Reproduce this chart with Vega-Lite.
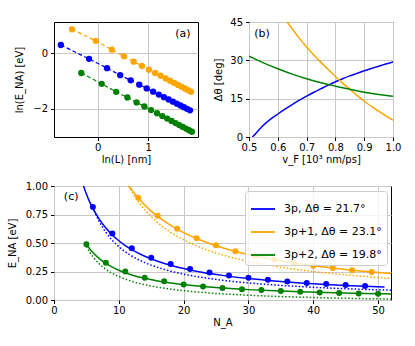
{
"$schema": "https://vega.github.io/schema/vega-lite/v6.json",
"background": "white",
"padding": {"left": 6, "top": 16, "right": 5, "bottom": 5},
"config": {
  "font": "DejaVu Sans",
  "view": {"stroke": "black", "strokeWidth": 1},
  "axis": {"grid": true, "gridColor": "#c8c8c8", "gridWidth": 1, "domain": false, "tickColor": "black", "tickSize": 3.5, "tickWidth": 1, "labelFontSize": 10, "labelColor": "black", "labelPadding": 3, "labelOverlap": false, "labelFlush": false, "labelBound": false, "titleFontSize": 10, "titleFontWeight": "normal", "titleColor": "black", "titlePadding": 2, "labelFont": "DejaVu Sans", "titleFont": "DejaVu Sans"},
  "text": {"font": "DejaVu Sans"},
  "legend": {"labelFont": "DejaVu Sans"}
},
"datasets": {
  "a": [
    {"s": "3p", "x": -0.734, "y": 0.30}, {"s": "3p", "x": -0.174, "y": -0.20}, {"s": "3p", "x": 0.183, "y": -0.535}, {"s": "3p", "x": 0.445, "y": -0.79}, {"s": "3p", "x": 0.653, "y": -0.975}, {"s": "3p", "x": 0.824, "y": -1.132}, {"s": "3p", "x": 0.971, "y": -1.267}, {"s": "3p", "x": 1.099, "y": -1.385}, {"s": "3p", "x": 1.212, "y": -1.489}, {"s": "3p", "x": 1.314, "y": -1.583}, {"s": "3p", "x": 1.406, "y": -1.667}, {"s": "3p", "x": 1.491, "y": -1.745}, {"s": "3p", "x": 1.569, "y": -1.817}, {"s": "3p", "x": 1.641, "y": -1.883}, {"s": "3p", "x": 1.709, "y": -1.946}, {"s": "3p", "x": 1.772, "y": -2.004}, {"s": "3p", "x": 1.831, "y": -2.059},
    {"s": "3p+1", "x": -0.511, "y": 0.867}, {"s": "3p+1", "x": -0.041, "y": 0.45}, {"s": "3p+1", "x": 0.278, "y": 0.13}, {"s": "3p+1", "x": 0.519, "y": -0.108}, {"s": "3p+1", "x": 0.713, "y": -0.301}, {"s": "3p+1", "x": 0.876, "y": -0.456}, {"s": "3p+1", "x": 1.015, "y": -0.589}, {"s": "3p+1", "x": 1.138, "y": -0.706}, {"s": "3p+1", "x": 1.247, "y": -0.81}, {"s": "3p+1", "x": 1.346, "y": -0.905}, {"s": "3p+1", "x": 1.435, "y": -0.99}, {"s": "3p+1", "x": 1.518, "y": -1.069}, {"s": "3p+1", "x": 1.594, "y": -1.141}, {"s": "3p+1", "x": 1.664, "y": -1.208}, {"s": "3p+1", "x": 1.73, "y": -1.271}, {"s": "3p+1", "x": 1.792, "y": -1.33}, {"s": "3p+1", "x": 1.85, "y": -1.386},
    {"s": "3p+2", "x": -0.328, "y": -0.711}, {"s": "3p+2", "x": 0.077, "y": -1.10}, {"s": "3p+2", "x": 0.365, "y": -1.39}, {"s": "3p+2", "x": 0.588, "y": -1.595}, {"s": "3p+2", "x": 0.77, "y": -1.771}, {"s": "3p+2", "x": 0.925, "y": -1.92}, {"s": "3p+2", "x": 1.058, "y": -2.048}, {"s": "3p+2", "x": 1.176, "y": -2.162}, {"s": "3p+2", "x": 1.281, "y": -2.264}, {"s": "3p+2", "x": 1.377, "y": -2.356}, {"s": "3p+2", "x": 1.464, "y": -2.44}, {"s": "3p+2", "x": 1.544, "y": -2.517}, {"s": "3p+2", "x": 1.618, "y": -2.589}, {"s": "3p+2", "x": 1.687, "y": -2.655}, {"s": "3p+2", "x": 1.751, "y": -2.717}, {"s": "3p+2", "x": 1.812, "y": -2.776}, {"s": "3p+2", "x": 1.869, "y": -2.831}
  ],
  "labA": [{"x": 1.69, "y": 0.686, "t": "(a)"}],
  "b": [
    {"s": "3p", "v": 0.512, "d": 0}, {"s": "3p", "v": 0.525, "d": 1.6}, {"s": "3p", "v": 0.55, "d": 4.6}, {"s": "3p", "v": 0.575, "d": 7.0}, {"s": "3p", "v": 0.6, "d": 9.0}, {"s": "3p", "v": 0.625, "d": 10.9}, {"s": "3p", "v": 0.65, "d": 12.7}, {"s": "3p", "v": 0.675, "d": 14.4}, {"s": "3p", "v": 0.7, "d": 16.0}, {"s": "3p", "v": 0.725, "d": 17.5}, {"s": "3p", "v": 0.75, "d": 18.9}, {"s": "3p", "v": 0.775, "d": 20.3}, {"s": "3p", "v": 0.8, "d": 21.6}, {"s": "3p", "v": 0.825, "d": 22.8}, {"s": "3p", "v": 0.85, "d": 23.9}, {"s": "3p", "v": 0.875, "d": 24.9}, {"s": "3p", "v": 0.9, "d": 25.9}, {"s": "3p", "v": 0.925, "d": 26.8}, {"s": "3p", "v": 0.95, "d": 27.7}, {"s": "3p", "v": 0.975, "d": 28.6}, {"s": "3p", "v": 1.0, "d": 29.4},
    {"s": "3p+1", "v": 0.633, "d": 45}, {"s": "3p+1", "v": 0.65, "d": 42.3}, {"s": "3p+1", "v": 0.675, "d": 38.6}, {"s": "3p+1", "v": 0.7, "d": 35.2}, {"s": "3p+1", "v": 0.725, "d": 32.1}, {"s": "3p+1", "v": 0.75, "d": 29.2}, {"s": "3p+1", "v": 0.775, "d": 26.4}, {"s": "3p+1", "v": 0.8, "d": 23.7}, {"s": "3p+1", "v": 0.825, "d": 21.1}, {"s": "3p+1", "v": 0.85, "d": 18.7}, {"s": "3p+1", "v": 0.875, "d": 16.3}, {"s": "3p+1", "v": 0.9, "d": 14.0}, {"s": "3p+1", "v": 0.925, "d": 12.0}, {"s": "3p+1", "v": 0.95, "d": 10.1}, {"s": "3p+1", "v": 0.975, "d": 8.3}, {"s": "3p+1", "v": 1.0, "d": 6.6},
    {"s": "3p+2", "v": 0.5, "d": 31.6}, {"s": "3p+2", "v": 0.55, "d": 29.0}, {"s": "3p+2", "v": 0.6, "d": 26.7}, {"s": "3p+2", "v": 0.65, "d": 24.6}, {"s": "3p+2", "v": 0.7, "d": 22.8}, {"s": "3p+2", "v": 0.75, "d": 21.2}, {"s": "3p+2", "v": 0.8, "d": 19.9}, {"s": "3p+2", "v": 0.85, "d": 18.7}, {"s": "3p+2", "v": 0.9, "d": 17.5}, {"s": "3p+2", "v": 0.95, "d": 16.6}, {"s": "3p+2", "v": 1.0, "d": 15.9}
  ],
  "labB": [{"v": 0.545, "d": 40.5, "t": "(b)"}],
  "cp": [
    {"s": "3p, Δθ = 21.7°", "n": 6, "e": 0.816}, {"s": "3p, Δθ = 21.7°", "n": 9, "e": 0.583}, {"s": "3p, Δθ = 21.7°", "n": 12, "e": 0.454}, {"s": "3p, Δθ = 21.7°", "n": 15, "e": 0.371}, {"s": "3p, Δθ = 21.7°", "n": 18, "e": 0.315}, {"s": "3p, Δθ = 21.7°", "n": 21, "e": 0.272}, {"s": "3p, Δθ = 21.7°", "n": 24, "e": 0.242}, {"s": "3p, Δθ = 21.7°", "n": 27, "e": 0.215}, {"s": "3p, Δθ = 21.7°", "n": 30, "e": 0.195}, {"s": "3p, Δθ = 21.7°", "n": 33, "e": 0.177}, {"s": "3p, Δθ = 21.7°", "n": 36, "e": 0.163}, {"s": "3p, Δθ = 21.7°", "n": 39, "e": 0.150}, {"s": "3p, Δθ = 21.7°", "n": 42, "e": 0.140}, {"s": "3p, Δθ = 21.7°", "n": 45, "e": 0.132}, {"s": "3p, Δθ = 21.7°", "n": 48, "e": 0.123},
    {"s": "3p+1, Δθ = 23.1°", "n": 13, "e": 0.898}, {"s": "3p+1, Δθ = 23.1°", "n": 16, "e": 0.740}, {"s": "3p+1, Δθ = 23.1°", "n": 19, "e": 0.626}, {"s": "3p+1, Δθ = 23.1°", "n": 22, "e": 0.541}, {"s": "3p+1, Δθ = 23.1°", "n": 25, "e": 0.480}, {"s": "3p+1, Δθ = 23.1°", "n": 28, "e": 0.427}, {"s": "3p+1, Δθ = 23.1°", "n": 31, "e": 0.388}, {"s": "3p+1, Δθ = 23.1°", "n": 34, "e": 0.356}, {"s": "3p+1, Δθ = 23.1°", "n": 37, "e": 0.325}, {"s": "3p+1, Δθ = 23.1°", "n": 40, "e": 0.300}, {"s": "3p+1, Δθ = 23.1°", "n": 43, "e": 0.280}, {"s": "3p+1, Δθ = 23.1°", "n": 46, "e": 0.262}, {"s": "3p+1, Δθ = 23.1°", "n": 49, "e": 0.246},
    {"s": "3p+2, Δθ = 19.8°", "n": 5, "e": 0.490}, {"s": "3p+2, Δθ = 19.8°", "n": 8, "e": 0.327}, {"s": "3p+2, Δθ = 19.8°", "n": 11, "e": 0.251}, {"s": "3p+2, Δθ = 19.8°", "n": 14, "e": 0.196}, {"s": "3p+2, Δθ = 19.8°", "n": 17, "e": 0.164}, {"s": "3p+2, Δθ = 19.8°", "n": 20, "e": 0.136}, {"s": "3p+2, Δθ = 19.8°", "n": 23, "e": 0.119}, {"s": "3p+2, Δθ = 19.8°", "n": 26, "e": 0.105}, {"s": "3p+2, Δθ = 19.8°", "n": 29, "e": 0.095}, {"s": "3p+2, Δθ = 19.8°", "n": 32, "e": 0.087}, {"s": "3p+2, Δθ = 19.8°", "n": 35, "e": 0.079}, {"s": "3p+2, Δθ = 19.8°", "n": 38, "e": 0.072}, {"s": "3p+2, Δθ = 19.8°", "n": 41, "e": 0.066}, {"s": "3p+2, Δθ = 19.8°", "n": 44, "e": 0.062}, {"s": "3p+2, Δθ = 19.8°", "n": 47, "e": 0.058}, {"s": "3p+2, Δθ = 19.8°", "n": 50, "e": 0.055}
  ],
  "cs": [
    {"s": "3p, Δθ = 21.7°", "n": 4.55, "e": 1.0}, {"s": "3p, Δθ = 21.7°", "n": 5, "e": 0.929}, {"s": "3p, Δθ = 21.7°", "n": 5.5, "e": 0.861}, {"s": "3p, Δθ = 21.7°", "n": 6, "e": 0.803}, {"s": "3p, Δθ = 21.7°", "n": 7, "e": 0.707}, {"s": "3p, Δθ = 21.7°", "n": 8, "e": 0.631}, {"s": "3p, Δθ = 21.7°", "n": 9, "e": 0.570}, {"s": "3p, Δθ = 21.7°", "n": 10, "e": 0.520}, {"s": "3p, Δθ = 21.7°", "n": 11, "e": 0.478}, {"s": "3p, Δθ = 21.7°", "n": 12, "e": 0.442}, {"s": "3p, Δθ = 21.7°", "n": 14, "e": 0.384}, {"s": "3p, Δθ = 21.7°", "n": 16, "e": 0.340}, {"s": "3p, Δθ = 21.7°", "n": 18, "e": 0.305}, {"s": "3p, Δθ = 21.7°", "n": 20, "e": 0.276}, {"s": "3p, Δθ = 21.7°", "n": 23, "e": 0.242}, {"s": "3p, Δθ = 21.7°", "n": 26, "e": 0.216}, {"s": "3p, Δθ = 21.7°", "n": 30, "e": 0.188}, {"s": "3p, Δθ = 21.7°", "n": 34, "e": 0.167}, {"s": "3p, Δθ = 21.7°", "n": 38, "e": 0.150}, {"s": "3p, Δθ = 21.7°", "n": 42, "e": 0.136}, {"s": "3p, Δθ = 21.7°", "n": 46, "e": 0.125}, {"s": "3p, Δθ = 21.7°", "n": 51, "e": 0.113},
    {"s": "3p+1, Δθ = 23.1°", "n": 11.56, "e": 1.0}, {"s": "3p+1, Δθ = 23.1°", "n": 12, "e": 0.966}, {"s": "3p+1, Δθ = 23.1°", "n": 13, "e": 0.895}, {"s": "3p+1, Δθ = 23.1°", "n": 14, "e": 0.834}, {"s": "3p+1, Δθ = 23.1°", "n": 15, "e": 0.780}, {"s": "3p+1, Δθ = 23.1°", "n": 16, "e": 0.734}, {"s": "3p+1, Δθ = 23.1°", "n": 18, "e": 0.655}, {"s": "3p+1, Δθ = 23.1°", "n": 20, "e": 0.591}, {"s": "3p+1, Δθ = 23.1°", "n": 22, "e": 0.539}, {"s": "3p+1, Δθ = 23.1°", "n": 25, "e": 0.476}, {"s": "3p+1, Δθ = 23.1°", "n": 28, "e": 0.426}, {"s": "3p+1, Δθ = 23.1°", "n": 31, "e": 0.386}, {"s": "3p+1, Δθ = 23.1°", "n": 34, "e": 0.354}, {"s": "3p+1, Δθ = 23.1°", "n": 37, "e": 0.324}, {"s": "3p+1, Δθ = 23.1°", "n": 40, "e": 0.300}, {"s": "3p+1, Δθ = 23.1°", "n": 43, "e": 0.280}, {"s": "3p+1, Δθ = 23.1°", "n": 46, "e": 0.262}, {"s": "3p+1, Δθ = 23.1°", "n": 49, "e": 0.246}, {"s": "3p+1, Δθ = 23.1°", "n": 52, "e": 0.232},
    {"s": "3p+2, Δθ = 19.8°", "n": 5, "e": 0.490}, {"s": "3p+2, Δθ = 19.8°", "n": 5.5, "e": 0.450}, {"s": "3p+2, Δθ = 19.8°", "n": 6, "e": 0.417}, {"s": "3p+2, Δθ = 19.8°", "n": 7, "e": 0.363}, {"s": "3p+2, Δθ = 19.8°", "n": 8, "e": 0.321}, {"s": "3p+2, Δθ = 19.8°", "n": 9, "e": 0.288}, {"s": "3p+2, Δθ = 19.8°", "n": 10, "e": 0.261}, {"s": "3p+2, Δθ = 19.8°", "n": 12, "e": 0.220}, {"s": "3p+2, Δθ = 19.8°", "n": 14, "e": 0.190}, {"s": "3p+2, Δθ = 19.8°", "n": 16, "e": 0.167}, {"s": "3p+2, Δθ = 19.8°", "n": 18, "e": 0.149}, {"s": "3p+2, Δθ = 19.8°", "n": 20, "e": 0.135}, {"s": "3p+2, Δθ = 19.8°", "n": 23, "e": 0.118}, {"s": "3p+2, Δθ = 19.8°", "n": 26, "e": 0.1045}, {"s": "3p+2, Δθ = 19.8°", "n": 30, "e": 0.091}, {"s": "3p+2, Δθ = 19.8°", "n": 34, "e": 0.0804}, {"s": "3p+2, Δθ = 19.8°", "n": 38, "e": 0.0721}, {"s": "3p+2, Δθ = 19.8°", "n": 42, "e": 0.0653}, {"s": "3p+2, Δθ = 19.8°", "n": 46, "e": 0.0597}, {"s": "3p+2, Δθ = 19.8°", "n": 50, "e": 0.055}, {"s": "3p+2, Δθ = 19.8°", "n": 52, "e": 0.0529}
  ],
  "cd": [
    {"s": "3p, Δθ = 21.7°", "n": 6, "e": 0.812}, {"s": "3p, Δθ = 21.7°", "n": 6.5, "e": 0.744}, {"s": "3p, Δθ = 21.7°", "n": 7, "e": 0.686}, {"s": "3p, Δθ = 21.7°", "n": 8, "e": 0.594}, {"s": "3p, Δθ = 21.7°", "n": 9, "e": 0.523}, {"s": "3p, Δθ = 21.7°", "n": 10, "e": 0.468}, {"s": "3p, Δθ = 21.7°", "n": 12, "e": 0.386}, {"s": "3p, Δθ = 21.7°", "n": 14, "e": 0.328}, {"s": "3p, Δθ = 21.7°", "n": 16, "e": 0.286}, {"s": "3p, Δθ = 21.7°", "n": 18, "e": 0.253}, {"s": "3p, Δθ = 21.7°", "n": 20, "e": 0.227}, {"s": "3p, Δθ = 21.7°", "n": 23, "e": 0.197}, {"s": "3p, Δθ = 21.7°", "n": 26, "e": 0.173}, {"s": "3p, Δθ = 21.7°", "n": 30, "e": 0.150}, {"s": "3p, Δθ = 21.7°", "n": 34, "e": 0.132}, {"s": "3p, Δθ = 21.7°", "n": 38, "e": 0.118}, {"s": "3p, Δθ = 21.7°", "n": 42, "e": 0.106}, {"s": "3p, Δθ = 21.7°", "n": 46, "e": 0.097}, {"s": "3p, Δθ = 21.7°", "n": 52, "e": 0.086},
    {"s": "3p+1, Δθ = 23.1°", "n": 11.5, "e": 1.0}, {"s": "3p+1, Δθ = 23.1°", "n": 12, "e": 0.95}, {"s": "3p+1, Δθ = 23.1°", "n": 13, "e": 0.864}, {"s": "3p+1, Δθ = 23.1°", "n": 14, "e": 0.792}, {"s": "3p+1, Δθ = 23.1°", "n": 15, "e": 0.731}, {"s": "3p+1, Δθ = 23.1°", "n": 16, "e": 0.679}, {"s": "3p+1, Δθ = 23.1°", "n": 18, "e": 0.594}, {"s": "3p+1, Δθ = 23.1°", "n": 20, "e": 0.528}, {"s": "3p+1, Δθ = 23.1°", "n": 22, "e": 0.475}, {"s": "3p+1, Δθ = 23.1°", "n": 25, "e": 0.413}, {"s": "3p+1, Δθ = 23.1°", "n": 28, "e": 0.365}, {"s": "3p+1, Δθ = 23.1°", "n": 31, "e": 0.328}, {"s": "3p+1, Δθ = 23.1°", "n": 34, "e": 0.297}, {"s": "3p+1, Δθ = 23.1°", "n": 37, "e": 0.271}, {"s": "3p+1, Δθ = 23.1°", "n": 40, "e": 0.25}, {"s": "3p+1, Δθ = 23.1°", "n": 43, "e": 0.232}, {"s": "3p+1, Δθ = 23.1°", "n": 46, "e": 0.216}, {"s": "3p+1, Δθ = 23.1°", "n": 49, "e": 0.202}, {"s": "3p+1, Δθ = 23.1°", "n": 52, "e": 0.19},
    {"s": "3p+2, Δθ = 19.8°", "n": 5, "e": 0.470}, {"s": "3p+2, Δθ = 19.8°", "n": 5.5, "e": 0.420}, {"s": "3p+2, Δθ = 19.8°", "n": 6, "e": 0.380}, {"s": "3p+2, Δθ = 19.8°", "n": 7, "e": 0.316}, {"s": "3p+2, Δθ = 19.8°", "n": 8, "e": 0.270}, {"s": "3p+2, Δθ = 19.8°", "n": 9, "e": 0.234}, {"s": "3p+2, Δθ = 19.8°", "n": 10, "e": 0.206}, {"s": "3p+2, Δθ = 19.8°", "n": 12, "e": 0.164}, {"s": "3p+2, Δθ = 19.8°", "n": 14, "e": 0.134}, {"s": "3p+2, Δθ = 19.8°", "n": 16, "e": 0.112}, {"s": "3p+2, Δθ = 19.8°", "n": 18, "e": 0.095}, {"s": "3p+2, Δθ = 19.8°", "n": 20, "e": 0.082}, {"s": "3p+2, Δθ = 19.8°", "n": 23, "e": 0.066}, {"s": "3p+2, Δθ = 19.8°", "n": 26, "e": 0.054}, {"s": "3p+2, Δθ = 19.8°", "n": 30, "e": 0.042}, {"s": "3p+2, Δθ = 19.8°", "n": 34, "e": 0.032}, {"s": "3p+2, Δθ = 19.8°", "n": 38, "e": 0.025}, {"s": "3p+2, Δθ = 19.8°", "n": 42, "e": 0.019}, {"s": "3p+2, Δθ = 19.8°", "n": 46, "e": 0.014}, {"s": "3p+2, Δθ = 19.8°", "n": 52, "e": 0.008}
  ],
  "labC": [{"n": 2.65, "e": 0.9, "t": "(c)"}]
},
"resolve": {"scale": {"color": "independent"}, "legend": {"color": "independent"}},
"spacing": 15,
"vconcat": [
  {
    "resolve": {"scale": {"color": "independent"}, "legend": {"color": "independent"}},
    "spacing": 51,
    "bounds": "flush",
    "hconcat": [
      {
        "width": 144, "height": 115,
        "layer": [
          {
            "data": {"name": "a"},
            "mark": {"type": "line", "strokeDash": [4, 2.5], "strokeWidth": 1.2, "clip": true},
            "encoding": {
              "x": {"field": "x", "type": "quantitative", "scale": {"domain": [-0.87, 1.99], "nice": false, "zero": false}, "axis": {"values": [0, 1], "tickCount": 20, "format": "d", "title": "ln(L) [nm]", "labelOverlap": false, "labelPadding": 2}},
              "y": {"field": "y", "type": "quantitative", "scale": {"domain": [-3.02, 1.13], "nice": false, "zero": false}, "axis": {"values": [-2, 0], "tickCount": 20, "format": "d", "labelExpr": "replace(datum.label, '-', '−')", "title": "ln(E_NA) [eV]", "titlePadding": 8, "labelOverlap": false}},
              "color": {"field": "s", "type": "nominal", "scale": {"domain": ["3p", "3p+1", "3p+2"], "range": ["#0000ff", "#ffa500", "#008000"]}, "legend": null}
            }
          },
          {
            "data": {"name": "a"},
            "mark": {"type": "circle", "size": 40, "opacity": 1},
            "encoding": {
              "x": {"field": "x", "type": "quantitative"},
              "y": {"field": "y", "type": "quantitative"},
              "color": {"field": "s", "type": "nominal", "legend": null}
            }
          },
          {
            "data": {"name": "labA"},
            "mark": {"type": "text", "fontSize": 11, "align": "center", "baseline": "middle", "color": "black"},
            "encoding": {
              "x": {"field": "x", "type": "quantitative"},
              "y": {"field": "y", "type": "quantitative"},
              "text": {"field": "t"}
            }
          }
        ]
      },
      {
        "width": 144, "height": 115,
        "layer": [
          {
            "data": {"name": "b"},
            "mark": {"type": "line", "strokeWidth": 1.5, "interpolate": "monotone", "clip": true},
            "encoding": {
              "x": {"field": "v", "type": "quantitative", "scale": {"domain": [0.5, 1.0], "nice": false, "zero": false}, "axis": {"values": [0.5, 0.6, 0.7, 0.8, 0.9, 1.0], "tickCount": 20, "format": ".1f", "title": "v_F [10³ nm/ps]", "labelOverlap": false, "labelPadding": 2}},
              "y": {"field": "d", "type": "quantitative", "scale": {"domain": [0, 45], "nice": false}, "axis": {"values": [0, 15, 30, 45], "tickCount": 20, "title": "Δθ [deg]", "titlePadding": 6, "labelOverlap": false}},
              "color": {"field": "s", "type": "nominal", "scale": {"domain": ["3p", "3p+1", "3p+2"], "range": ["#0000ff", "#ffa500", "#008000"]}, "legend": null}
            }
          },
          {
            "data": {"name": "labB"},
            "mark": {"type": "text", "fontSize": 11, "align": "center", "baseline": "middle", "color": "black"},
            "encoding": {
              "x": {"field": "v", "type": "quantitative"},
              "y": {"field": "d", "type": "quantitative"},
              "text": {"field": "t"}
            }
          }
        ]
      }
    ]
  },
  {
    "width": 337, "height": 114,
    "layer": [
      {
        "data": {"name": "cd"},
        "mark": {"type": "line", "strokeWidth": 1.5, "strokeDash": [1.5, 2], "interpolate": "monotone", "clip": true},
        "encoding": {
          "x": {"field": "n", "type": "quantitative", "scale": {"domain": [0, 52], "nice": false, "zero": false}, "axis": {"values": [0, 10, 20, 30, 40, 50], "tickCount": 20, "title": "N_A", "labelOverlap": false, "labelPadding": 2}},
          "y": {"field": "e", "type": "quantitative", "scale": {"domain": [0, 1], "nice": false}, "axis": {"values": [0, 0.25, 0.5, 0.75, 1.0], "tickCount": 20, "format": ".2f", "title": "E_NA [eV]", "titlePadding": 8, "labelOverlap": false}},
          "color": {"field": "s", "type": "nominal", "scale": {"domain": ["3p, Δθ = 21.7°", "3p+1, Δθ = 23.1°", "3p+2, Δθ = 19.8°"], "range": ["#0000ff", "#ffa500", "#008000"]}}
        }
      },
      {
        "data": {"name": "cs"},
        "mark": {"type": "line", "strokeWidth": 1.5, "interpolate": "monotone", "clip": true},
        "encoding": {
          "x": {"field": "n", "type": "quantitative"},
          "y": {"field": "e", "type": "quantitative"},
          "color": {"field": "s", "type": "nominal", "legend": {"orient": "top-right", "offset": 4.5, "title": null, "symbolType": "stroke", "symbolSize": 580, "symbolStrokeWidth": 1.8, "symbolDash": [], "labelFontSize": 11, "labelOffset": 8, "labelLimit": 250, "rowPadding": 5, "padding": 5, "fillColor": "rgba(255,255,255,0.8)", "strokeColor": "#cccccc", "cornerRadius": 3, "labelColor": "black"}}
        }
      },
      {
        "data": {"name": "cp"},
        "mark": {"type": "circle", "size": 36, "opacity": 1},
        "encoding": {
          "x": {"field": "n", "type": "quantitative"},
          "y": {"field": "e", "type": "quantitative"},
          "color": {"field": "s", "type": "nominal"}
        }
      },
      {
        "data": {"name": "labC"},
        "mark": {"type": "text", "fontSize": 11, "align": "center", "baseline": "middle", "color": "black"},
        "encoding": {
          "x": {"field": "n", "type": "quantitative"},
          "y": {"field": "e", "type": "quantitative"},
          "text": {"field": "t"}
        }
      }
    ]
  }
]
}
